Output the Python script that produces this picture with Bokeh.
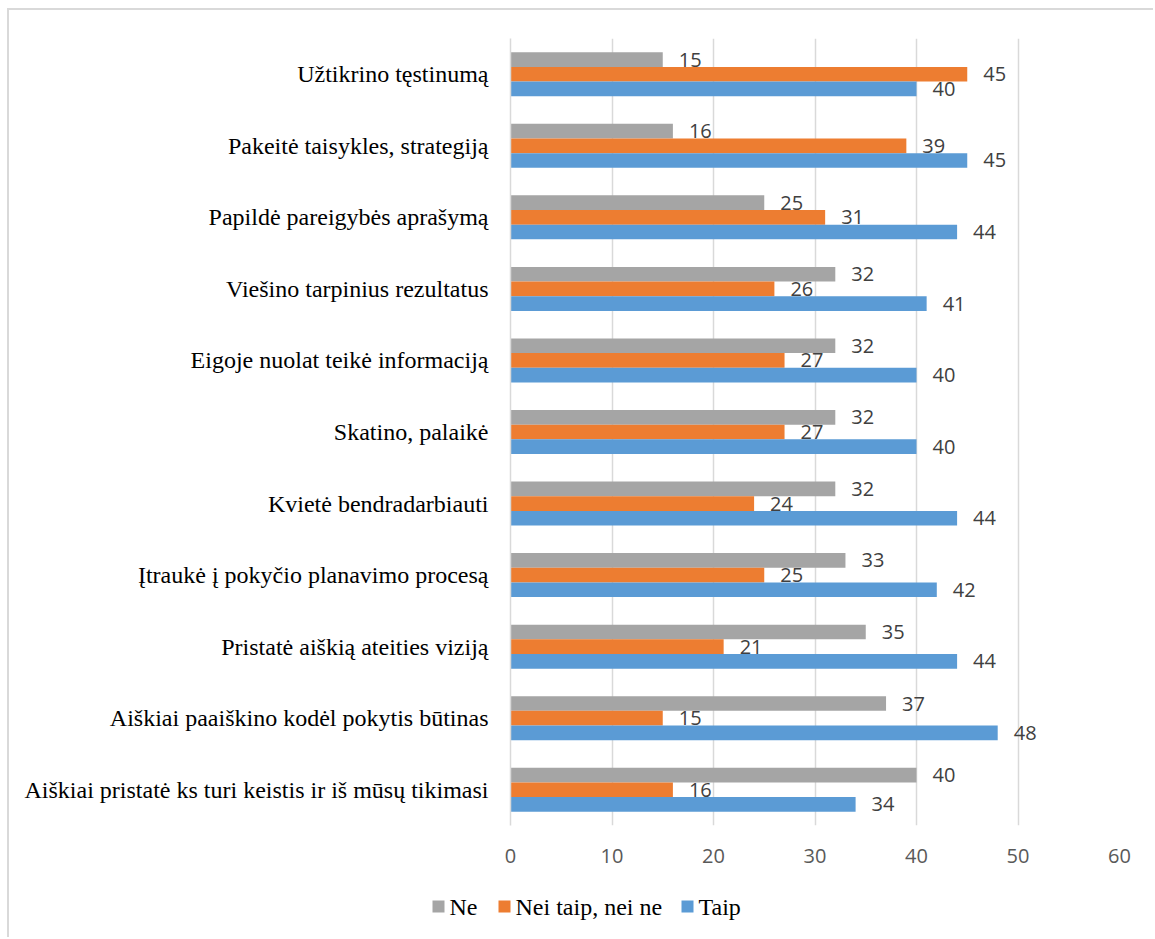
from bokeh.plotting import figure
from bokeh.models import ColumnDataSource, FactorRange, Range1d, FixedTicker, Label
from bokeh.transform import dodge
from bokeh.core.properties import value
from bokeh.embed import file_html
from bokeh.resources import INLINE

# Survey statements, top to bottom as shown
categories = [
    "Užtikrino tęstinumą",
    "Pakeitė taisykles, strategiją",
    "Papildė pareigybės aprašymą",
    "Viešino tarpinius rezultatus",
    "Eigoje nuolat teikė informaciją",
    "Skatino, palaikė",
    "Kvietė bendradarbiauti",
    "Įtraukė į pokyčio planavimo procesą",
    "Pristatė aiškią ateities viziją",
    "Aiškiai paaiškino kodėl pokytis būtinas",
    "Aiškiai pristatė ks turi keistis ir iš mūsų tikimasi",
]
ne = [15, 16, 25, 32, 32, 32, 32, 33, 35, 37, 40]
nei_taip_nei_ne = [45, 39, 31, 26, 27, 27, 24, 25, 21, 15, 16]
taip = [40, 45, 44, 41, 40, 40, 44, 42, 44, 48, 34]

series_names = ["Ne", "Nei taip, nei ne", "Taip"]
colors = ["#A5A5A5", "#ED7D31", "#5B9BD5"]
x_ticks = [0, 10, 20, 30, 40, 50, 60]

W = 1146
MAIN_H = 870
LEG_H = 59
BORDER = "2px solid #D9D9D9"

source = ColumnDataSource(data=dict(
    cat=categories,
    ne=ne, nei=nei_taip_nei_ne, taip=taip,
    ne_lbl=[str(v) for v in ne],
    nei_lbl=[str(v) for v in nei_taip_nei_ne],
    taip_lbl=[str(v) for v in taip],
))

p = figure(
    y_range=FactorRange(factors=categories[::-1], range_padding=0),
    x_range=Range1d(0, 60),
    width=W, height=MAIN_H,
    min_border_left=501, min_border_top=28,
    min_border_right=36, min_border_bottom=55,
    output_backend="svg", toolbar_location=None,
)
p.margin = (8, 0, 0, 7)
p.styles = {"border-top": BORDER, "border-left": BORDER}

bar_h = 0.205
offsets = [bar_h, 0.0, -bar_h]
fields = ["ne", "nei", "taip"]
for f, off, c in zip(fields, offsets, colors):
    p.hbar(y=dodge("cat", off, range=p.y_range), right=f, left=0,
           height=bar_h, color=c, line_color=None, source=source)
    p.text(x=f, y=dodge("cat", off, range=p.y_range), text=f + "_lbl",
           x_offset=16, text_baseline="middle", text_align="left",
           text_font=value("Open Sans"), text_font_size="20px",
           text_color="#404040", source=source)

# axes and grid
p.outline_line_color = None
p.ygrid.grid_line_color = None
p.xgrid.grid_line_color = "#D9D9D9"
p.xgrid.grid_line_width = 1.5
p.xaxis.ticker = FixedTicker(ticks=x_ticks)
p.xaxis.axis_line_color = None
p.xaxis.major_tick_line_color = None
p.xaxis.minor_tick_line_color = None
p.xaxis.major_label_standoff = 17
p.xaxis.major_label_text_font = "Open Sans"
p.xaxis.major_label_text_font_size = "20px"
p.xaxis.major_label_text_color = "#595959"

p.yaxis.axis_line_color = "#D9D9D9"
p.yaxis.axis_line_width = 1.5
p.yaxis.major_tick_line_color = None
p.yaxis.major_label_standoff = 16
p.yaxis.major_label_text_font = "Liberation Serif"
p.yaxis.major_label_text_font_size = "24px"
p.yaxis.major_label_text_color = "#000000"

# legend strip under the chart (pixel-scaled ranges)
leg = figure(
    x_range=Range1d(0, W), y_range=Range1d(0, LEG_H),
    width=W, height=LEG_H, min_border=0,
    output_backend="svg", toolbar_location=None,
)
leg.margin = (0, 0, 0, 7)
leg.styles = {"border-left": BORDER}
leg.axis.visible = False
leg.grid.visible = False
leg.outline_line_color = None

swatch = 12
gap_after_swatch = 5
label_widths = [28, 145, 43]
item_gap = 21
x = 423.0
sw_x, lb_x = [], []
for w in label_widths:
    sw_x.append(x + swatch / 2)
    lb_x.append(x + swatch + gap_after_swatch)
    x += swatch + gap_after_swatch + w + item_gap
leg_y = LEG_H - 28

leg.rect(x=sw_x, y=[leg_y] * 3, width=swatch, height=swatch,
         color=colors, line_color=None)
for lx, name in zip(lb_x, series_names):
    leg.add_layout(Label(
        x=lx, y=leg_y, text=name,
        text_baseline="middle", text_align="left",
        text_font="Liberation Serif", text_font_size="24px",
        text_color="#000000",
    ))

open("out.html", "w").write(file_html([p, leg], INLINE))
